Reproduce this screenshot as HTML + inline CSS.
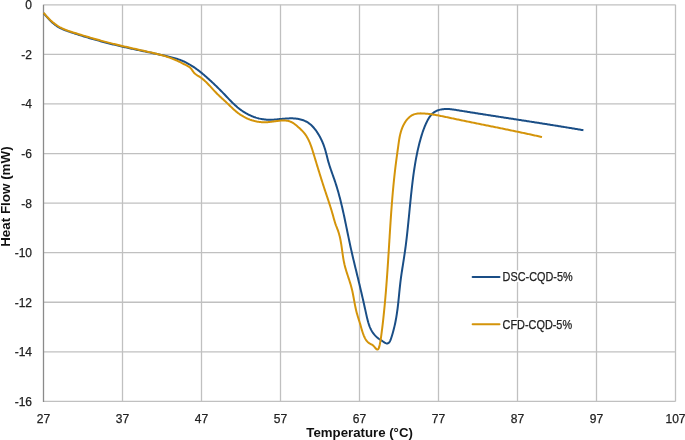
<!DOCTYPE html>
<html><head><meta charset="utf-8"><style>
html,body{margin:0;padding:0;background:#fff;}
body{width:685px;height:440px;overflow:hidden;}
svg{display:block;will-change:transform;font-family:"Liberation Sans",sans-serif;}
</style></head><body>
<svg width="685" height="440" viewBox="0 0 685 440">
<rect width="685" height="440" fill="#fff"/>
<g stroke="#c0c0c0" stroke-width="1.3" shape-rendering="auto">
<line x1="122.50" y1="4.8" x2="122.50" y2="401.4"/>
<line x1="201.50" y1="4.8" x2="201.50" y2="401.4"/>
<line x1="280.50" y1="4.8" x2="280.50" y2="401.4"/>
<line x1="359.50" y1="4.8" x2="359.50" y2="401.4"/>
<line x1="438.50" y1="4.8" x2="438.50" y2="401.4"/>
<line x1="517.50" y1="4.8" x2="517.50" y2="401.4"/>
<line x1="596.50" y1="4.8" x2="596.50" y2="401.4"/>
<line x1="675.50" y1="4.8" x2="675.50" y2="401.4"/>
<line x1="43.5" y1="4.80" x2="675.5" y2="4.80"/>
<line x1="43.5" y1="54.37" x2="675.5" y2="54.37"/>
<line x1="43.5" y1="103.95" x2="675.5" y2="103.95"/>
<line x1="43.5" y1="153.53" x2="675.5" y2="153.53"/>
<line x1="43.5" y1="203.10" x2="675.5" y2="203.10"/>
<line x1="43.5" y1="252.67" x2="675.5" y2="252.67"/>
<line x1="43.5" y1="302.25" x2="675.5" y2="302.25"/>
<line x1="43.5" y1="351.82" x2="675.5" y2="351.82"/>
<line x1="43.5" y1="401.4" x2="675.5" y2="401.4"/>
</g>
<line x1="43.5" y1="4.8" x2="43.5" y2="401.9" stroke="#8a8a8a" stroke-width="1.3"/>
<g font-size="12" fill="#222" stroke="#222" stroke-width="0.25">
<text x="32" y="9.20" text-anchor="end">0</text>
<text x="32" y="58.77" text-anchor="end">-2</text>
<text x="32" y="108.35" text-anchor="end">-4</text>
<text x="32" y="157.93" text-anchor="end">-6</text>
<text x="32" y="207.50" text-anchor="end">-8</text>
<text x="32" y="257.07" text-anchor="end">-10</text>
<text x="32" y="306.65" text-anchor="end">-12</text>
<text x="32" y="356.22" text-anchor="end">-14</text>
<text x="32" y="405.80" text-anchor="end">-16</text>
<text x="43.50" y="422.7" text-anchor="middle">27</text>
<text x="122.50" y="422.7" text-anchor="middle">37</text>
<text x="201.50" y="422.7" text-anchor="middle">47</text>
<text x="280.50" y="422.7" text-anchor="middle">57</text>
<text x="359.50" y="422.7" text-anchor="middle">67</text>
<text x="438.50" y="422.7" text-anchor="middle">77</text>
<text x="517.50" y="422.7" text-anchor="middle">87</text>
<text x="596.50" y="422.7" text-anchor="middle">97</text>
<text x="675.50" y="422.7" text-anchor="middle">107</text>
</g>
<path d="M43.62,13.11 L44.24,13.86 L44.87,14.61 L45.50,15.36 L46.15,16.11 L46.80,16.87 L47.47,17.62 L48.14,18.37 L48.83,19.11 L49.53,19.84 L50.24,20.56 L50.96,21.27 L51.70,21.97 L52.44,22.65 L53.20,23.32 L53.98,23.96 L54.77,24.59 L55.57,25.19 L56.38,25.76 L57.21,26.31 L58.06,26.84 L58.91,27.33 L59.78,27.80 L60.67,28.26 L61.56,28.68 L62.46,29.10 L63.37,29.49 L64.29,29.87 L65.22,30.23 L66.15,30.59 L67.09,30.93 L68.03,31.26 L68.98,31.59 L69.93,31.91 L70.87,32.23 L71.82,32.55 L72.77,32.86 L73.72,33.17 L74.68,33.49 L75.63,33.79 L76.58,34.10 L77.53,34.41 L78.48,34.71 L79.44,35.01 L80.39,35.31 L81.35,35.61 L82.30,35.90 L83.26,36.20 L84.22,36.49 L85.17,36.78 L86.13,37.06 L87.09,37.35 L88.05,37.64 L89.00,37.92 L89.96,38.20 L90.92,38.48 L91.88,38.75 L92.84,39.03 L93.81,39.30 L94.77,39.57 L95.73,39.84 L96.69,40.11 L97.66,40.38 L98.62,40.64 L99.58,40.91 L100.55,41.17 L101.51,41.43 L102.48,41.69 L103.44,41.94 L104.41,42.20 L105.38,42.45 L106.34,42.70 L107.31,42.95 L108.28,43.20 L109.25,43.44 L110.22,43.69 L111.18,43.93 L112.15,44.17 L113.12,44.41 L114.09,44.65 L115.06,44.89 L116.04,45.12 L117.01,45.36 L117.98,45.59 L118.95,45.82 L119.92,46.05 L120.90,46.27 L121.87,46.50 L122.84,46.72 L123.82,46.95 L124.79,47.17 L125.77,47.39 L126.74,47.61 L127.72,47.82 L128.69,48.04 L129.67,48.25 L130.64,48.47 L131.62,48.68 L132.60,48.89 L133.57,49.10 L134.55,49.31 L135.53,49.51 L136.51,49.72 L137.48,49.93 L138.46,50.13 L139.44,50.34 L140.42,50.54 L141.40,50.75 L142.38,50.95 L143.36,51.16 L144.34,51.36 L145.31,51.56 L146.29,51.77 L147.27,51.97 L148.25,52.17 L149.23,52.38 L150.21,52.58 L151.19,52.79 L152.17,52.99 L153.15,53.20 L154.13,53.40 L155.11,53.61 L156.09,53.82 L157.07,54.03 L158.05,54.24 L159.02,54.45 L160.00,54.66 L160.98,54.87 L161.96,55.09 L162.94,55.30 L163.92,55.52 L164.90,55.74 L165.87,55.96 L166.85,56.18 L167.83,56.41 L168.80,56.64 L169.78,56.88 L170.75,57.12 L171.72,57.36 L172.69,57.62 L173.65,57.88 L174.61,58.15 L175.57,58.43 L176.52,58.72 L177.46,59.02 L178.41,59.34 L179.34,59.67 L180.28,60.01 L181.20,60.36 L182.12,60.73 L183.03,61.12 L183.94,61.52 L184.83,61.94 L185.73,62.38 L186.61,62.83 L187.49,63.29 L188.36,63.77 L189.23,64.26 L190.09,64.76 L190.94,65.28 L191.79,65.80 L192.63,66.34 L193.47,66.89 L194.30,67.45 L195.12,68.02 L195.94,68.60 L196.76,69.19 L197.57,69.79 L198.37,70.40 L199.17,71.01 L199.96,71.64 L200.75,72.26 L201.54,72.90 L202.32,73.54 L203.10,74.19 L203.87,74.84 L204.63,75.49 L205.40,76.15 L206.16,76.82 L206.91,77.48 L207.66,78.15 L208.41,78.82 L209.16,79.50 L209.90,80.17 L210.63,80.85 L211.37,81.53 L212.10,82.21 L212.83,82.89 L213.55,83.57 L214.27,84.25 L214.99,84.94 L215.71,85.63 L216.42,86.32 L217.13,87.01 L217.84,87.70 L218.55,88.40 L219.25,89.10 L219.95,89.80 L220.65,90.50 L221.35,91.21 L222.05,91.91 L222.74,92.62 L223.43,93.34 L224.13,94.05 L224.81,94.77 L225.50,95.49 L226.19,96.21 L226.88,96.94 L227.56,97.66 L228.25,98.39 L228.94,99.11 L229.64,99.83 L230.33,100.55 L231.03,101.27 L231.73,101.98 L232.44,102.68 L233.16,103.38 L233.88,104.07 L234.61,104.76 L235.35,105.44 L236.09,106.10 L236.85,106.76 L237.61,107.41 L238.39,108.04 L239.17,108.66 L239.97,109.27 L240.78,109.87 L241.60,110.45 L242.43,111.02 L243.27,111.57 L244.12,112.11 L244.97,112.63 L245.84,113.14 L246.72,113.63 L247.60,114.10 L248.49,114.56 L249.39,115.01 L250.30,115.43 L251.22,115.84 L252.14,116.23 L253.07,116.60 L254.00,116.95 L254.94,117.28 L255.89,117.60 L256.84,117.89 L257.80,118.16 L258.76,118.42 L259.73,118.65 L260.70,118.86 L261.67,119.05 L262.65,119.22 L263.63,119.36 L264.62,119.49 L265.60,119.58 L266.59,119.66 L267.59,119.71 L268.58,119.75 L269.58,119.76 L270.57,119.75 L271.57,119.72 L272.57,119.68 L273.58,119.63 L274.58,119.56 L275.58,119.48 L276.59,119.40 L277.59,119.31 L278.60,119.21 L279.61,119.11 L280.61,119.01 L281.62,118.91 L282.63,118.82 L283.63,118.72 L284.64,118.64 L285.64,118.56 L286.65,118.49 L287.65,118.43 L288.66,118.38 L289.66,118.35 L290.66,118.33 L291.66,118.33 L292.66,118.35 L293.65,118.40 L294.65,118.46 L295.64,118.56 L296.63,118.67 L297.61,118.82 L298.59,118.99 L299.56,119.19 L300.52,119.42 L301.47,119.68 L302.41,119.97 L303.34,120.29 L304.25,120.65 L305.15,121.05 L306.03,121.48 L306.90,121.94 L307.74,122.45 L308.57,122.99 L309.37,123.58 L310.16,124.20 L310.92,124.85 L311.67,125.54 L312.39,126.26 L313.09,127.00 L313.77,127.77 L314.44,128.56 L315.08,129.36 L315.70,130.19 L316.31,131.02 L316.90,131.87 L317.46,132.73 L318.01,133.59 L318.54,134.45 L319.06,135.32 L319.55,136.19 L320.03,137.07 L320.50,137.95 L320.94,138.83 L321.37,139.72 L321.79,140.61 L322.19,141.51 L322.58,142.41 L322.95,143.32 L323.31,144.23 L323.66,145.15 L323.99,146.07 L324.31,147.00 L324.62,147.94 L324.92,148.87 L325.20,149.82 L325.48,150.77 L325.74,151.72 L326.00,152.68 L326.26,153.64 L326.51,154.61 L326.76,155.58 L327.00,156.55 L327.25,157.52 L327.50,158.49 L327.75,159.46 L328.01,160.42 L328.27,161.39 L328.54,162.36 L328.82,163.32 L329.11,164.28 L329.40,165.24 L329.71,166.19 L330.02,167.15 L330.33,168.10 L330.65,169.05 L330.98,169.99 L331.31,170.94 L331.64,171.89 L331.98,172.83 L332.31,173.78 L332.65,174.72 L332.99,175.66 L333.32,176.61 L333.66,177.55 L333.99,178.50 L334.32,179.44 L334.64,180.39 L334.97,181.34 L335.28,182.28 L335.59,183.23 L335.90,184.19 L336.20,185.14 L336.50,186.09 L336.79,187.05 L337.08,188.00 L337.37,188.96 L337.65,189.92 L337.93,190.87 L338.20,191.83 L338.47,192.80 L338.74,193.76 L339.00,194.72 L339.26,195.68 L339.52,196.65 L339.77,197.61 L340.02,198.58 L340.27,199.54 L340.52,200.51 L340.76,201.48 L341.00,202.45 L341.23,203.42 L341.47,204.39 L341.70,205.36 L341.93,206.33 L342.15,207.30 L342.38,208.28 L342.60,209.25 L342.82,210.22 L343.04,211.20 L343.26,212.17 L343.47,213.15 L343.69,214.13 L343.90,215.10 L344.11,216.08 L344.32,217.06 L344.53,218.03 L344.73,219.01 L344.94,219.99 L345.15,220.97 L345.35,221.95 L345.55,222.93 L345.76,223.91 L345.96,224.89 L346.16,225.87 L346.36,226.85 L346.56,227.83 L346.76,228.81 L346.96,229.79 L347.16,230.77 L347.36,231.75 L347.56,232.73 L347.77,233.71 L347.97,234.69 L348.17,235.67 L348.37,236.65 L348.57,237.63 L348.78,238.61 L348.98,239.59 L349.19,240.57 L349.39,241.55 L349.60,242.53 L349.81,243.51 L350.02,244.49 L350.23,245.47 L350.44,246.45 L350.66,247.43 L350.87,248.41 L351.09,249.39 L351.31,250.36 L351.53,251.34 L351.75,252.32 L351.98,253.29 L352.20,254.27 L352.43,255.25 L352.66,256.22 L352.88,257.20 L353.11,258.17 L353.35,259.15 L353.58,260.12 L353.81,261.09 L354.04,262.07 L354.28,263.04 L354.51,264.01 L354.74,264.99 L354.98,265.96 L355.22,266.93 L355.45,267.90 L355.69,268.87 L355.92,269.84 L356.16,270.81 L356.40,271.78 L356.63,272.75 L356.87,273.72 L357.10,274.69 L357.34,275.66 L357.57,276.62 L357.81,277.59 L358.04,278.56 L358.28,279.52 L358.51,280.49 L358.74,281.46 L358.97,282.42 L359.20,283.39 L359.43,284.35 L359.66,285.32 L359.89,286.28 L360.12,287.25 L360.35,288.21 L360.58,289.18 L360.80,290.15 L361.03,291.11 L361.26,292.08 L361.48,293.05 L361.71,294.02 L361.93,294.99 L362.15,295.95 L362.38,296.93 L362.60,297.90 L362.82,298.87 L363.04,299.84 L363.26,300.82 L363.49,301.79 L363.71,302.77 L363.93,303.75 L364.15,304.73 L364.36,305.71 L364.58,306.69 L364.80,307.68 L365.02,308.66 L365.24,309.65 L365.46,310.64 L365.67,311.63 L365.89,312.63 L366.11,313.62 L366.33,314.62 L366.55,315.62 L366.77,316.61 L367.00,317.61 L367.24,318.60 L367.48,319.58 L367.74,320.57 L368.01,321.54 L368.28,322.51 L368.58,323.47 L368.89,324.42 L369.22,325.36 L369.56,326.28 L369.93,327.20 L370.32,328.10 L370.73,328.98 L371.16,329.86 L371.63,330.71 L372.12,331.54 L372.64,332.36 L373.18,333.16 L373.77,333.93 L374.38,334.68 L375.03,335.41 L375.71,336.12 L376.43,336.80 L377.17,337.46 L377.94,338.10 L378.73,338.70 L379.56,339.29 L380.40,339.85 L381.25,340.41 L382.12,340.96 L382.99,341.51 L383.86,342.08 L384.72,342.63 L385.58,343.09 L386.42,343.40 L387.25,343.46 L388.04,343.24 L388.77,342.78 L389.41,342.12 L389.93,341.31 L390.37,340.41 L390.74,339.44 L391.07,338.44 L391.40,337.45 L391.72,336.45 L392.03,335.46 L392.33,334.47 L392.62,333.49 L392.90,332.50 L393.17,331.52 L393.44,330.53 L393.69,329.55 L393.94,328.57 L394.18,327.59 L394.41,326.61 L394.64,325.64 L394.86,324.66 L395.07,323.68 L395.27,322.71 L395.47,321.73 L395.66,320.76 L395.84,319.78 L396.02,318.80 L396.19,317.83 L396.36,316.85 L396.52,315.88 L396.68,314.90 L396.83,313.92 L396.97,312.94 L397.12,311.96 L397.25,310.98 L397.39,310.00 L397.51,309.01 L397.64,308.03 L397.76,307.04 L397.88,306.05 L397.99,305.06 L398.11,304.07 L398.22,303.08 L398.32,302.09 L398.43,301.09 L398.53,300.10 L398.63,299.10 L398.74,298.11 L398.84,297.11 L398.94,296.11 L399.04,295.11 L399.13,294.12 L399.23,293.12 L399.33,292.12 L399.43,291.12 L399.54,290.12 L399.64,289.12 L399.74,288.13 L399.85,287.13 L399.96,286.13 L400.07,285.13 L400.18,284.13 L400.29,283.14 L400.41,282.14 L400.53,281.15 L400.66,280.15 L400.79,279.16 L400.92,278.16 L401.05,277.17 L401.19,276.18 L401.33,275.19 L401.48,274.20 L401.62,273.21 L401.77,272.22 L401.92,271.23 L402.07,270.24 L402.22,269.25 L402.37,268.26 L402.53,267.27 L402.68,266.29 L402.84,265.30 L402.99,264.31 L403.15,263.32 L403.30,262.34 L403.46,261.35 L403.61,260.36 L403.77,259.38 L403.92,258.39 L404.07,257.40 L404.22,256.41 L404.37,255.43 L404.52,254.44 L404.66,253.45 L404.81,252.46 L404.95,251.47 L405.08,250.48 L405.22,249.49 L405.35,248.50 L405.49,247.51 L405.62,246.52 L405.75,245.53 L405.87,244.54 L406.00,243.55 L406.12,242.56 L406.24,241.57 L406.36,240.58 L406.48,239.59 L406.60,238.60 L406.71,237.60 L406.83,236.61 L406.94,235.62 L407.05,234.63 L407.16,233.63 L407.27,232.64 L407.38,231.65 L407.49,230.65 L407.59,229.66 L407.70,228.67 L407.80,227.67 L407.91,226.68 L408.01,225.68 L408.11,224.69 L408.21,223.69 L408.31,222.70 L408.41,221.71 L408.51,220.71 L408.61,219.72 L408.71,218.72 L408.81,217.73 L408.91,216.73 L409.00,215.74 L409.10,214.74 L409.20,213.75 L409.30,212.75 L409.39,211.76 L409.49,210.76 L409.59,209.76 L409.68,208.77 L409.78,207.77 L409.88,206.78 L409.98,205.78 L410.08,204.79 L410.17,203.79 L410.27,202.80 L410.37,201.80 L410.47,200.80 L410.57,199.81 L410.68,198.81 L410.78,197.82 L410.88,196.82 L410.98,195.83 L411.09,194.83 L411.19,193.84 L411.30,192.84 L411.41,191.85 L411.52,190.85 L411.63,189.86 L411.74,188.86 L411.85,187.87 L411.96,186.87 L412.08,185.88 L412.19,184.88 L412.31,183.89 L412.43,182.90 L412.55,181.90 L412.67,180.91 L412.80,179.91 L412.92,178.92 L413.05,177.93 L413.18,176.93 L413.31,175.94 L413.44,174.95 L413.58,173.96 L413.72,172.97 L413.86,171.98 L414.00,170.98 L414.15,169.99 L414.30,169.00 L414.45,168.02 L414.60,167.03 L414.76,166.04 L414.92,165.05 L415.08,164.06 L415.24,163.08 L415.41,162.09 L415.58,161.11 L415.76,160.12 L415.94,159.14 L416.12,158.16 L416.31,157.18 L416.50,156.20 L416.69,155.22 L416.89,154.24 L417.09,153.26 L417.29,152.28 L417.50,151.31 L417.71,150.33 L417.93,149.36 L418.15,148.39 L418.38,147.42 L418.61,146.45 L418.85,145.48 L419.09,144.51 L419.33,143.54 L419.58,142.58 L419.84,141.62 L420.10,140.65 L420.36,139.69 L420.63,138.73 L420.91,137.77 L421.19,136.82 L421.47,135.86 L421.76,134.91 L422.06,133.96 L422.37,133.01 L422.68,132.06 L423.01,131.11 L423.34,130.17 L423.68,129.23 L424.03,128.29 L424.39,127.36 L424.77,126.43 L425.15,125.50 L425.55,124.58 L425.96,123.66 L426.39,122.74 L426.83,121.83 L427.29,120.92 L427.76,120.01 L428.25,119.12 L428.77,118.25 L429.31,117.39 L429.87,116.56 L430.46,115.76 L431.09,114.99 L431.74,114.26 L432.44,113.57 L433.17,112.93 L433.94,112.34 L434.75,111.80 L435.60,111.32 L436.49,110.88 L437.40,110.50 L438.34,110.17 L439.31,109.88 L440.29,109.63 L441.29,109.43 L442.29,109.27 L443.31,109.14 L444.33,109.06 L445.34,109.00 L446.35,108.99 L447.36,109.00 L448.37,109.04 L449.36,109.10 L450.36,109.19 L451.35,109.29 L452.34,109.42 L453.33,109.55 L454.32,109.70 L455.30,109.85 L456.29,110.01 L457.27,110.17 L458.26,110.33 L459.24,110.49 L460.23,110.65 L461.21,110.81 L462.20,110.97 L463.18,111.13 L464.17,111.29 L465.15,111.44 L466.14,111.60 L467.13,111.76 L468.11,111.92 L469.10,112.08 L470.08,112.23 L471.07,112.39 L472.06,112.55 L473.04,112.70 L474.03,112.86 L475.02,113.02 L476.00,113.17 L476.99,113.33 L477.98,113.48 L478.96,113.64 L479.95,113.79 L480.94,113.95 L481.93,114.10 L482.91,114.26 L483.90,114.41 L484.89,114.57 L485.88,114.72 L486.86,114.88 L487.85,115.03 L488.84,115.19 L489.83,115.34 L490.81,115.49 L491.80,115.65 L492.79,115.80 L493.78,115.95 L494.77,116.11 L495.75,116.26 L496.74,116.41 L497.73,116.57 L498.72,116.72 L499.71,116.87 L500.70,117.03 L501.69,117.18 L502.67,117.33 L503.66,117.49 L504.65,117.64 L505.64,117.79 L506.63,117.94 L507.62,118.10 L508.61,118.25 L509.59,118.40 L510.58,118.55 L511.57,118.71 L512.56,118.86 L513.55,119.01 L514.54,119.17 L515.53,119.32 L516.52,119.47 L517.50,119.63 L518.49,119.78 L519.48,119.93 L520.47,120.08 L521.46,120.24 L522.45,120.39 L523.44,120.54 L524.43,120.70 L525.42,120.85 L526.40,121.01 L527.39,121.16 L528.38,121.31 L529.37,121.47 L530.36,121.62 L531.35,121.77 L532.34,121.93 L533.32,122.08 L534.31,122.24 L535.30,122.39 L536.29,122.55 L537.28,122.70 L538.27,122.86 L539.26,123.01 L540.24,123.17 L541.23,123.33 L542.22,123.48 L543.21,123.64 L544.20,123.79 L545.18,123.95 L546.17,124.11 L547.16,124.26 L548.15,124.42 L549.14,124.58 L550.12,124.74 L551.11,124.89 L552.10,125.05 L553.09,125.21 L554.07,125.37 L555.06,125.53 L556.05,125.69 L557.03,125.85 L558.02,126.01 L559.01,126.17 L560.00,126.33 L560.98,126.49 L561.97,126.65 L562.96,126.81 L563.94,126.97 L564.93,127.13 L565.91,127.29 L566.90,127.46 L567.89,127.62 L568.87,127.78 L569.86,127.95 L570.84,128.11 L571.83,128.27 L572.82,128.44 L573.80,128.60 L574.79,128.77 L575.77,128.93 L576.76,129.10 L577.74,129.27 L578.73,129.43 L579.71,129.60 L580.69,129.77 L581.68,129.94 L582.66,130.10 L583.40,130.23" fill="none" stroke="#1a4e86" stroke-width="2.0" stroke-linejoin="round" stroke-linecap="butt"/>
<path d="M43.66,12.75 L44.28,13.53 L44.91,14.29 L45.56,15.06 L46.21,15.81 L46.88,16.56 L47.56,17.29 L48.25,18.02 L48.95,18.74 L49.67,19.44 L50.39,20.14 L51.13,20.82 L51.88,21.49 L52.64,22.14 L53.41,22.78 L54.19,23.40 L54.99,24.01 L55.80,24.60 L56.61,25.17 L57.44,25.72 L58.28,26.26 L59.14,26.77 L60.00,27.26 L60.88,27.73 L61.76,28.18 L62.66,28.60 L63.56,29.01 L64.48,29.40 L65.40,29.78 L66.33,30.14 L67.27,30.49 L68.21,30.83 L69.15,31.15 L70.10,31.47 L71.05,31.78 L72.01,32.09 L72.97,32.39 L73.92,32.69 L74.88,32.99 L75.84,33.29 L76.80,33.58 L77.75,33.88 L78.71,34.17 L79.67,34.47 L80.63,34.76 L81.58,35.05 L82.54,35.34 L83.50,35.63 L84.45,35.91 L85.41,36.20 L86.37,36.48 L87.33,36.77 L88.29,37.05 L89.24,37.33 L90.20,37.61 L91.16,37.89 L92.12,38.16 L93.08,38.44 L94.04,38.71 L95.00,38.99 L95.96,39.26 L96.92,39.53 L97.88,39.79 L98.84,40.06 L99.80,40.32 L100.77,40.59 L101.73,40.85 L102.69,41.11 L103.66,41.37 L104.62,41.62 L105.58,41.88 L106.55,42.13 L107.51,42.38 L108.48,42.63 L109.45,42.88 L110.42,43.12 L111.38,43.37 L112.35,43.61 L113.32,43.85 L114.29,44.09 L115.26,44.33 L116.23,44.56 L117.20,44.80 L118.17,45.03 L119.15,45.26 L120.12,45.49 L121.09,45.72 L122.07,45.95 L123.04,46.18 L124.01,46.40 L124.99,46.63 L125.96,46.85 L126.94,47.08 L127.92,47.30 L128.89,47.52 L129.87,47.74 L130.84,47.96 L131.82,48.19 L132.80,48.41 L133.77,48.62 L134.75,48.84 L135.73,49.06 L136.71,49.28 L137.68,49.50 L138.66,49.72 L139.64,49.94 L140.62,50.16 L141.59,50.37 L142.57,50.59 L143.55,50.81 L144.53,51.03 L145.51,51.25 L146.48,51.47 L147.46,51.69 L148.44,51.91 L149.41,52.14 L150.39,52.36 L151.37,52.58 L152.34,52.81 L153.32,53.04 L154.29,53.27 L155.26,53.51 L156.24,53.75 L157.21,53.99 L158.18,54.24 L159.14,54.49 L160.11,54.75 L161.07,55.01 L162.03,55.28 L162.99,55.55 L163.95,55.83 L164.91,56.12 L165.86,56.41 L166.81,56.72 L167.75,57.03 L168.70,57.34 L169.64,57.67 L170.57,58.01 L171.51,58.36 L172.44,58.71 L173.37,59.08 L174.29,59.45 L175.21,59.84 L176.12,60.24 L177.03,60.65 L177.94,61.08 L178.84,61.51 L179.74,61.96 L180.64,62.41 L181.53,62.87 L182.43,63.33 L183.32,63.79 L184.22,64.24 L185.12,64.68 L186.03,65.11 L186.93,65.56 L187.80,66.02 L188.64,66.52 L189.44,67.08 L190.18,67.70 L190.85,68.41 L191.46,69.20 L192.04,70.02 L192.61,70.86 L193.19,71.69 L193.81,72.48 L194.49,73.21 L195.23,73.86 L196.01,74.47 L196.83,75.04 L197.67,75.59 L198.52,76.12 L199.37,76.66 L200.21,77.21 L201.03,77.78 L201.83,78.38 L202.61,79.00 L203.38,79.63 L204.14,80.28 L204.88,80.95 L205.61,81.63 L206.33,82.33 L207.04,83.03 L207.74,83.75 L208.43,84.47 L209.12,85.20 L209.80,85.93 L210.48,86.67 L211.16,87.40 L211.83,88.14 L212.51,88.88 L213.19,89.61 L213.86,90.34 L214.54,91.07 L215.23,91.79 L215.91,92.50 L216.60,93.22 L217.30,93.92 L218.00,94.61 L218.71,95.30 L219.42,95.98 L220.14,96.65 L220.86,97.32 L221.59,97.98 L222.32,98.65 L223.05,99.31 L223.78,99.97 L224.51,100.65 L225.24,101.32 L225.97,102.01 L226.69,102.70 L227.41,103.39 L228.13,104.09 L228.86,104.79 L229.58,105.49 L230.31,106.20 L231.03,106.89 L231.77,107.59 L232.50,108.28 L233.24,108.96 L233.99,109.64 L234.74,110.31 L235.51,110.97 L236.28,111.61 L237.06,112.24 L237.84,112.86 L238.64,113.46 L239.46,114.05 L240.28,114.61 L241.11,115.16 L241.96,115.69 L242.81,116.20 L243.67,116.70 L244.55,117.17 L245.43,117.63 L246.32,118.06 L247.22,118.48 L248.13,118.88 L249.05,119.25 L249.98,119.61 L250.91,119.94 L251.85,120.26 L252.80,120.55 L253.75,120.82 L254.71,121.07 L255.68,121.29 L256.65,121.50 L257.63,121.68 L258.61,121.84 L259.60,121.97 L260.59,122.08 L261.59,122.17 L262.59,122.23 L263.59,122.27 L264.60,122.29 L265.61,122.27 L266.62,122.24 L267.64,122.18 L268.66,122.09 L269.68,121.99 L270.70,121.87 L271.72,121.74 L272.74,121.60 L273.76,121.46 L274.77,121.31 L275.79,121.17 L276.80,121.03 L277.80,120.90 L278.81,120.78 L279.81,120.68 L280.80,120.60 L281.78,120.54 L282.76,120.51 L283.74,120.51 L284.70,120.54 L285.66,120.61 L286.60,120.72 L287.54,120.87 L288.46,121.07 L289.38,121.32 L290.28,121.63 L291.17,122.00 L292.05,122.42 L292.91,122.91 L293.76,123.46 L294.60,124.05 L295.42,124.68 L296.24,125.33 L297.04,126.01 L297.83,126.70 L298.61,127.39 L299.38,128.09 L300.14,128.78 L300.88,129.48 L301.60,130.18 L302.30,130.90 L302.99,131.62 L303.65,132.36 L304.28,133.11 L304.88,133.89 L305.46,134.68 L306.02,135.49 L306.55,136.31 L307.05,137.15 L307.54,138.00 L308.00,138.87 L308.45,139.75 L308.87,140.64 L309.28,141.54 L309.68,142.45 L310.06,143.37 L310.42,144.30 L310.78,145.24 L311.12,146.18 L311.45,147.13 L311.78,148.08 L312.09,149.04 L312.40,150.00 L312.70,150.97 L313.00,151.93 L313.30,152.90 L313.59,153.87 L313.89,154.83 L314.18,155.80 L314.47,156.76 L314.77,157.72 L315.06,158.68 L315.35,159.65 L315.64,160.61 L315.93,161.56 L316.22,162.52 L316.52,163.48 L316.81,164.44 L317.10,165.39 L317.39,166.35 L317.68,167.30 L317.97,168.26 L318.26,169.21 L318.56,170.16 L318.85,171.12 L319.14,172.07 L319.44,173.02 L319.73,173.97 L320.03,174.92 L320.32,175.87 L320.62,176.82 L320.92,177.77 L321.21,178.72 L321.51,179.67 L321.81,180.62 L322.11,181.56 L322.42,182.51 L322.72,183.46 L323.03,184.41 L323.33,185.35 L323.64,186.30 L323.95,187.25 L324.26,188.20 L324.57,189.14 L324.88,190.09 L325.20,191.04 L325.52,191.99 L325.83,192.93 L326.15,193.88 L326.47,194.83 L326.78,195.78 L327.10,196.72 L327.42,197.67 L327.74,198.62 L328.05,199.57 L328.37,200.52 L328.68,201.47 L328.99,202.42 L329.30,203.37 L329.61,204.32 L329.92,205.28 L330.22,206.23 L330.52,207.18 L330.82,208.14 L331.11,209.09 L331.41,210.05 L331.69,211.00 L331.98,211.96 L332.26,212.92 L332.53,213.88 L332.81,214.83 L333.07,215.79 L333.34,216.76 L333.60,217.72 L333.86,218.68 L334.13,219.64 L334.41,220.59 L334.69,221.54 L334.98,222.49 L335.29,223.44 L335.61,224.38 L335.95,225.32 L336.31,226.25 L336.67,227.18 L337.03,228.10 L337.39,229.03 L337.74,229.96 L338.08,230.90 L338.40,231.84 L338.70,232.78 L338.98,233.73 L339.25,234.69 L339.51,235.65 L339.75,236.61 L339.97,237.58 L340.19,238.55 L340.39,239.53 L340.58,240.51 L340.76,241.49 L340.93,242.47 L341.10,243.46 L341.26,244.44 L341.41,245.43 L341.56,246.43 L341.71,247.42 L341.85,248.41 L341.99,249.41 L342.12,250.40 L342.26,251.40 L342.40,252.40 L342.54,253.39 L342.68,254.39 L342.83,255.38 L342.98,256.37 L343.13,257.37 L343.29,258.36 L343.46,259.34 L343.64,260.33 L343.82,261.32 L344.02,262.30 L344.23,263.28 L344.44,264.25 L344.68,265.22 L344.92,266.19 L345.17,267.16 L345.44,268.12 L345.71,269.08 L345.99,270.04 L346.28,271.00 L346.58,271.95 L346.88,272.91 L347.19,273.86 L347.49,274.81 L347.81,275.76 L348.12,276.71 L348.43,277.66 L348.75,278.61 L349.06,279.56 L349.37,280.51 L349.67,281.47 L349.97,282.42 L350.27,283.37 L350.56,284.33 L350.84,285.29 L351.11,286.25 L351.37,287.21 L351.63,288.18 L351.87,289.15 L352.10,290.12 L352.32,291.09 L352.53,292.07 L352.74,293.05 L352.94,294.03 L353.13,295.01 L353.32,295.99 L353.51,296.98 L353.69,297.96 L353.87,298.95 L354.05,299.93 L354.22,300.92 L354.40,301.90 L354.58,302.89 L354.77,303.87 L354.96,304.86 L355.15,305.84 L355.35,306.82 L355.55,307.80 L355.77,308.78 L355.99,309.75 L356.22,310.73 L356.46,311.70 L356.71,312.66 L356.97,313.63 L357.25,314.59 L357.53,315.55 L357.82,316.51 L358.12,317.46 L358.42,318.42 L358.72,319.37 L359.02,320.33 L359.32,321.28 L359.62,322.23 L359.91,323.19 L360.20,324.14 L360.47,325.10 L360.74,326.05 L361.01,327.01 L361.28,327.97 L361.56,328.93 L361.84,329.88 L362.12,330.84 L362.42,331.80 L362.74,332.75 L363.07,333.70 L363.43,334.65 L363.80,335.60 L364.20,336.54 L364.64,337.48 L365.10,338.39 L365.60,339.27 L366.14,340.10 L366.73,340.89 L367.36,341.62 L368.03,342.29 L368.76,342.87 L369.55,343.37 L370.37,343.81 L371.22,344.26 L372.07,344.74 L372.90,345.32 L373.70,346.05 L374.45,346.89 L375.16,347.77 L375.84,348.57 L376.49,349.20 L377.12,349.54 L377.72,349.51 L378.27,349.10 L378.71,348.38 L379.06,347.43 L379.35,346.37 L379.60,345.28 L379.84,344.22 L380.05,343.17 L380.25,342.13 L380.43,341.11 L380.60,340.10 L380.75,339.10 L380.90,338.11 L381.04,337.12 L381.18,336.14 L381.31,335.16 L381.44,334.17 L381.57,333.19 L381.70,332.20 L381.82,331.22 L381.95,330.23 L382.07,329.25 L382.19,328.26 L382.31,327.27 L382.43,326.29 L382.55,325.30 L382.67,324.31 L382.78,323.32 L382.90,322.33 L383.01,321.35 L383.12,320.36 L383.23,319.37 L383.34,318.38 L383.45,317.39 L383.55,316.40 L383.66,315.41 L383.76,314.41 L383.87,313.42 L383.97,312.43 L384.07,311.44 L384.17,310.45 L384.27,309.45 L384.37,308.46 L384.46,307.47 L384.56,306.48 L384.65,305.48 L384.75,304.49 L384.84,303.49 L384.93,302.50 L385.02,301.50 L385.11,300.51 L385.20,299.51 L385.29,298.52 L385.38,297.52 L385.46,296.53 L385.55,295.53 L385.63,294.53 L385.72,293.54 L385.80,292.54 L385.88,291.55 L385.96,290.55 L386.04,289.55 L386.12,288.55 L386.20,287.56 L386.28,286.56 L386.36,285.56 L386.43,284.56 L386.51,283.56 L386.58,282.57 L386.66,281.57 L386.73,280.57 L386.81,279.57 L386.88,278.57 L386.95,277.57 L387.03,276.58 L387.10,275.58 L387.17,274.58 L387.24,273.58 L387.31,272.58 L387.38,271.58 L387.45,270.58 L387.51,269.58 L387.58,268.58 L387.65,267.58 L387.72,266.58 L387.78,265.58 L387.85,264.58 L387.92,263.58 L387.98,262.58 L388.05,261.58 L388.11,260.59 L388.18,259.59 L388.24,258.59 L388.31,257.59 L388.37,256.59 L388.43,255.59 L388.50,254.59 L388.56,253.59 L388.62,252.59 L388.69,251.59 L388.75,250.59 L388.81,249.59 L388.87,248.59 L388.94,247.59 L389.00,246.59 L389.06,245.59 L389.12,244.60 L389.18,243.60 L389.25,242.60 L389.31,241.60 L389.37,240.60 L389.43,239.60 L389.50,238.60 L389.56,237.61 L389.62,236.61 L389.68,235.61 L389.74,234.61 L389.81,233.62 L389.87,232.62 L389.93,231.62 L390.00,230.62 L390.06,229.63 L390.12,228.63 L390.19,227.63 L390.25,226.63 L390.32,225.64 L390.38,224.64 L390.45,223.64 L390.51,222.65 L390.58,221.65 L390.64,220.65 L390.71,219.66 L390.78,218.66 L390.85,217.67 L390.91,216.67 L390.98,215.67 L391.05,214.68 L391.12,213.68 L391.19,212.68 L391.26,211.69 L391.34,210.69 L391.41,209.70 L391.48,208.70 L391.56,207.71 L391.63,206.71 L391.71,205.71 L391.78,204.72 L391.86,203.72 L391.94,202.73 L392.02,201.73 L392.10,200.74 L392.18,199.74 L392.26,198.75 L392.34,197.75 L392.42,196.76 L392.51,195.76 L392.59,194.76 L392.68,193.77 L392.76,192.77 L392.85,191.78 L392.94,190.78 L393.03,189.79 L393.12,188.79 L393.22,187.80 L393.31,186.80 L393.40,185.81 L393.50,184.81 L393.60,183.82 L393.70,182.82 L393.80,181.82 L393.90,180.83 L394.00,179.83 L394.10,178.84 L394.21,177.84 L394.32,176.85 L394.42,175.85 L394.53,174.86 L394.64,173.86 L394.76,172.86 L394.87,171.87 L394.98,170.87 L395.10,169.88 L395.22,168.88 L395.34,167.89 L395.46,166.89 L395.58,165.89 L395.71,164.90 L395.84,163.90 L395.96,162.91 L396.09,161.91 L396.22,160.91 L396.35,159.92 L396.48,158.92 L396.62,157.93 L396.75,156.94 L396.89,155.94 L397.02,154.95 L397.16,153.96 L397.29,152.97 L397.43,151.98 L397.57,150.99 L397.70,150.00 L397.84,149.01 L397.98,148.02 L398.12,147.04 L398.25,146.06 L398.39,145.07 L398.52,144.09 L398.66,143.11 L398.80,142.13 L398.94,141.15 L399.09,140.18 L399.25,139.21 L399.42,138.23 L399.59,137.26 L399.78,136.29 L399.98,135.33 L400.20,134.36 L400.44,133.40 L400.69,132.44 L400.97,131.48 L401.27,130.52 L401.59,129.56 L401.94,128.61 L402.32,127.66 L402.72,126.71 L403.15,125.77 L403.61,124.83 L404.11,123.92 L404.62,123.01 L405.17,122.13 L405.75,121.27 L406.35,120.44 L406.98,119.64 L407.64,118.88 L408.33,118.15 L409.05,117.47 L409.79,116.82 L410.57,116.23 L411.36,115.69 L412.19,115.21 L413.05,114.78 L413.93,114.42 L414.84,114.11 L415.77,113.87 L416.72,113.68 L417.69,113.54 L418.68,113.45 L419.68,113.39 L420.69,113.37 L421.70,113.38 L422.72,113.42 L423.75,113.47 L424.77,113.55 L425.78,113.63 L426.80,113.73 L427.81,113.83 L428.82,113.95 L429.82,114.07 L430.82,114.21 L431.81,114.35 L432.81,114.50 L433.80,114.65 L434.79,114.82 L435.77,114.99 L436.76,115.16 L437.74,115.34 L438.72,115.53 L439.70,115.72 L440.68,115.91 L441.65,116.11 L442.63,116.31 L443.61,116.51 L444.58,116.72 L445.55,116.93 L446.53,117.13 L447.50,117.34 L448.47,117.55 L449.45,117.76 L450.42,117.96 L451.40,118.17 L452.37,118.37 L453.35,118.58 L454.32,118.79 L455.30,118.99 L456.27,119.19 L457.25,119.40 L458.23,119.60 L459.20,119.80 L460.18,120.01 L461.16,120.21 L462.14,120.41 L463.11,120.61 L464.09,120.82 L465.07,121.02 L466.05,121.22 L467.03,121.42 L468.01,121.62 L468.99,121.82 L469.96,122.02 L470.94,122.22 L471.92,122.42 L472.90,122.62 L473.88,122.82 L474.86,123.02 L475.84,123.22 L476.82,123.42 L477.80,123.62 L478.78,123.82 L479.77,124.01 L480.75,124.21 L481.73,124.41 L482.71,124.61 L483.69,124.81 L484.67,125.01 L485.65,125.21 L486.63,125.41 L487.61,125.60 L488.59,125.80 L489.58,126.00 L490.56,126.20 L491.54,126.40 L492.52,126.60 L493.50,126.80 L494.48,127.00 L495.46,127.20 L496.45,127.39 L497.43,127.59 L498.41,127.79 L499.39,127.99 L500.37,128.19 L501.35,128.39 L502.33,128.59 L503.31,128.79 L504.29,129.00 L505.28,129.20 L506.26,129.40 L507.24,129.60 L508.22,129.80 L509.20,130.00 L510.18,130.21 L511.16,130.41 L512.14,130.61 L513.12,130.82 L514.10,131.02 L515.08,131.22 L516.06,131.43 L517.04,131.63 L518.01,131.84 L518.99,132.04 L519.97,132.25 L520.95,132.46 L521.93,132.66 L522.91,132.87 L523.88,133.08 L524.86,133.29 L525.84,133.50 L526.82,133.71 L527.79,133.92 L528.77,134.13 L529.74,134.34 L530.72,134.55 L531.70,134.76 L532.67,134.98 L533.65,135.19 L534.62,135.41 L535.60,135.62 L536.57,135.84 L537.54,136.05 L538.52,136.27 L539.49,136.49 L540.46,136.70 L541.43,136.92 L541.97,137.05" fill="none" stroke="#d4940a" stroke-width="2.0" stroke-linejoin="round" stroke-linecap="butt"/>
<rect x="502" y="270.5" width="72" height="11.5" fill="#fff"/>
<rect x="502" y="317.8" width="72" height="11.5" fill="#fff"/>
<line x1="472.6" y1="276.9" x2="499.5" y2="276.9" stroke="#1a4e86" stroke-width="2.0" stroke-linecap="round"/>
<line x1="472.6" y1="324.3" x2="499.5" y2="324.3" stroke="#d4940a" stroke-width="2.0" stroke-linecap="round"/>
<g font-size="12" fill="#222" stroke="#222" stroke-width="0.25">
<text x="502.6" y="281.3" textLength="70" lengthAdjust="spacingAndGlyphs">DSC-CQD-5%</text>
<text x="502.6" y="328.6" textLength="69.5" lengthAdjust="spacingAndGlyphs">CFD-CQD-5%</text>
</g>
<text x="359.6" y="436.6" text-anchor="middle" font-size="13.2" font-weight="bold" fill="#111" textLength="106.5" lengthAdjust="spacingAndGlyphs">Temperature (°C)</text>
<text transform="translate(10.4,196.6) rotate(-90)" text-anchor="middle" font-size="13.4" font-weight="bold" fill="#111">Heat Flow (mW)</text>
</svg>
</body></html>
